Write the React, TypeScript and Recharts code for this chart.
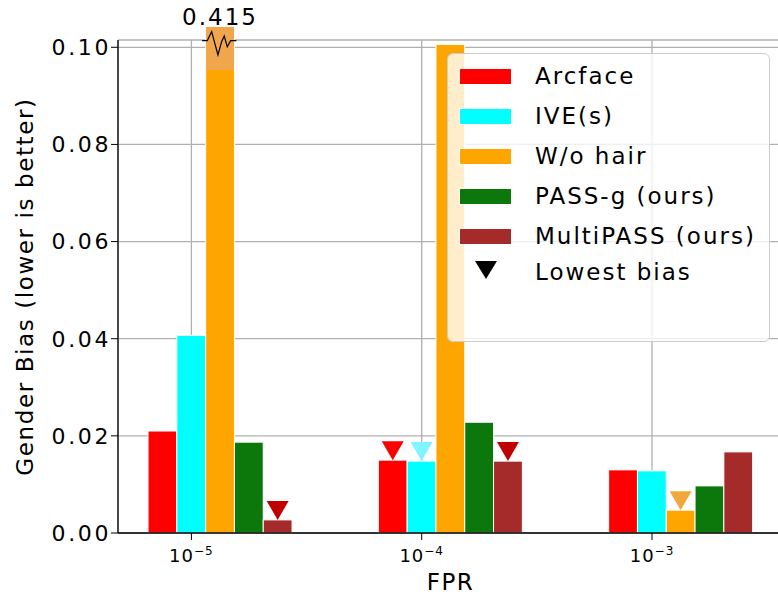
import React from "react";
import { BarChart, Bar, XAxis, YAxis, CartesianGrid, Legend } from "recharts";

// FPR operating points (powers of ten)
const fprExponents = [-5, -4, -3];

// gender bias per method at each FPR
const arcface = [0.021, 0.015, 0.013];
const ive = [0.0407, 0.0148, 0.0128];
const woHair = [0.415, 0.1006, 0.0047];
const passG = [0.0187, 0.0228, 0.0097];
const multiPass = [0.0027, 0.0148, 0.0167];

// methods reaching the lowest bias at each FPR
const lowestBias = [["multiPass"], ["arcface", "ive", "multiPass"], ["woHair"]];

const yTicks = [0, 0.02, 0.04, 0.06, 0.08, 0.1];

const FONT = "'DejaVu Sans', Verdana, sans-serif";
const Y_MAX = 0.1015;
const BAR_W = 0.125; // one bar, in decades
const X_MIN = -5.31875;
const X_MAX = -2.43125;

const SERIES = [
  { key: "arcface", name: "Arcface", color: "#ff0000", marker: "#ff0000", values: arcface },
  { key: "ive", name: "IVE(s)", color: "#00ffff", marker: "#80f5ff", values: ive },
  { key: "woHair", name: "W/o hair", color: "#ffa500", marker: "#f0a83c", values: woHair },
  { key: "passG", name: "PASS-g (ours)", color: "#0c780c", marker: "#0c780c", values: passG },
  { key: "multiPass", name: "MultiPASS (ours)", color: "#a52a2a", marker: "#c00000", values: multiPass },
];

// the tick sits under the second bar, so the group centre is one bar to the right
const data = fprExponents.map((e, i) => {
  const row: any = { pos: e + BAR_W, lowest: lowestBias[i] };
  SERIES.forEach((s) => (row[s.key] = s.values[i]));
  return row;
});

const makeShape = (key: string, marker: string) => (props: any) => {
  const { x, y, width, height, fill, payload, background } = props;
  const value = payload[key];
  const cx = x + width / 2;
  const base = y + height;
  const isLowest = payload.lowest.includes(key);

  if (value > Y_MAX) {
    // broken bar: runs past the top spine with a cut mark and its true value
    const top0 = background.y;
    const top = top0 - 13;
    const zig = [
      [-3.5, 0.7], [1.6, 0.7], [6, -8.3], [12.3, 15], [16, 1.7],
      [18.6, -4], [21.6, 6.7], [25, 0.7], [width + 2, 0.7],
    ]
      .map(([dx, dy]) => `${x + dx},${top0 + dy}`)
      .join(" ");
    return (
      <g>
        <rect x={x} y={top} width={width} height={base - top} fill={fill} stroke="#fff" strokeWidth={1} />
        <rect x={x + 0.5} y={top} width={width - 1} height={43} fill="#efa64c" />
        <polyline points={zig} fill="none" stroke="#000" strokeWidth={1.2} />
        <text x={cx} y={top - 2} textAnchor="middle" fontFamily={FONT} fontSize={23} letterSpacing={2} fill="#000">
          {value}
        </text>
      </g>
    );
  }
  return (
    <g>
      <rect x={x} y={y} width={width} height={height} fill={fill} stroke="#fff" strokeWidth={1} />
      {isLowest && (
        <polygon points={`${cx - 11},${y - 19} ${cx + 11},${y - 19} ${cx},${y}`} fill={marker} />
      )}
    </g>
  );
};

const FprTick = ({ x, y, payload }: any) => (
  <text x={x} y={y + 20} textAnchor="middle" fontFamily={FONT} fontSize={18} letterSpacing={1} fill="#000">
    10
    <tspan dy={-7} fontSize={12}>
      {"\u2212" + Math.abs(payload.value)}
    </tspan>
  </text>
);

const BiasTick = ({ x, y, payload }: any) => (
  <text x={x + 2} y={y} dy="0.36em" textAnchor="end" fontFamily={FONT} fontSize={22} letterSpacing={2.6} fill="#000">
    {payload.value.toFixed(2)}
  </text>
);

const XTitle = ({ viewBox }: any) => (
  <text x={viewBox.x + viewBox.width / 2} y={590} textAnchor="middle" fontFamily={FONT} fontSize={23} letterSpacing={1.5} fill="#000">
    FPR
  </text>
);

const YTitle = ({ viewBox }: any) => {
  const cy = viewBox.y + viewBox.height / 2;
  return (
    <text x={25} y={cy} transform={`rotate(-90 25 ${cy})`} dy="0.36em" textAnchor="middle" fontFamily={FONT} fontSize={23} letterSpacing={1.6} fill="#000">
      Gender Bias (lower is better)
    </text>
  );
};

const LegendBox = () => {
  const rowTop = (i: number) => 23 + i * 40;
  return (
    <div
      style={{
        boxSizing: "border-box",
        position: "relative",
        width: 323,
        height: 289,
        background: "rgba(255,255,255,0.8)",
        border: "1.5px solid #cccccc",
        borderRadius: 6,
        fontFamily: FONT,
        fontSize: 23,
        letterSpacing: 2,
        color: "#000",
      }}
    >
      {SERIES.map((s, i) => (
        <React.Fragment key={s.key}>
          <div
            style={{
              position: "absolute",
              left: 11,
              top: rowTop(i) - 9,
              width: 53,
              height: 17,
              background: s.color,
              border: "1px solid #fff",
              boxSizing: "border-box",
            }}
          />
          <div style={{ position: "absolute", left: 87, top: rowTop(i) - 15, lineHeight: "28px", whiteSpace: "nowrap" }}>
            {s.name}
          </div>
        </React.Fragment>
      ))}
      <svg style={{ position: "absolute", left: 26, top: rowTop(5) - 13 - 4 }} width={24} height={20}>
        <polygon points="1,1 23,1 12,19" fill="#000" />
      </svg>
      <div style={{ position: "absolute", left: 87, top: rowTop(5) - 4 - 15, lineHeight: "28px", whiteSpace: "nowrap" }}>
        Lowest bias
      </div>
    </div>
  );
};

export default function App() {
  return (
    <div style={{ position: "fixed", left: 0, top: 0, width: 778, height: 598, overflow: "hidden", background: "#fff" }}>
      {/* the broken bar is drawn past the top spine, so bars are not clipped */}
      <style>{`.recharts-bar-rectangles { clip-path: none !important; }`}</style>
      <BarChart width={800} height={598} data={data} margin={{ top: 40, right: 17, bottom: 0, left: 0 }} barGap={0}>
        <CartesianGrid stroke="#b0b0b0" strokeWidth={1.3} />
        <XAxis
          xAxisId="top"
          orientation="top"
          type="number"
          dataKey="pos"
          domain={[X_MIN, X_MAX]}
          height={0}
          tick={false}
          tickLine={false}
          axisLine={{ stroke: "#000", strokeWidth: 1.3 }}
        />
        <XAxis
          dataKey="pos"
          type="number"
          domain={[X_MIN, X_MAX]}
          ticks={fprExponents}
          interval={0}
          height={65}
          tickSize={7}
          tick={<FprTick />}
          tickLine={{ stroke: "#000" }}
          axisLine={{ stroke: "#000", strokeWidth: 1.3 }}
          label={<XTitle />}
        />
        <YAxis
          type="number"
          domain={[0, Y_MAX]}
          allowDataOverflow
          ticks={yTicks}
          interval={0}
          width={118}
          tickSize={7}
          tick={<BiasTick />}
          tickLine={{ stroke: "#000" }}
          axisLine={{ stroke: "#000", strokeWidth: 1.3 }}
          label={<YTitle />}
        />
        {SERIES.map((s) => (
          <Bar
            key={s.key}
            dataKey={s.key}
            name={s.name}
            fill={s.color}
            barSize={28.8}
            isAnimationActive={false}
            shape={makeShape(s.key, s.marker)}
          />
        ))}
        <Legend
          layout="vertical"
          align="center"
          verticalAlign="middle"
          wrapperStyle={{ left: 447, top: 53, width: 323, height: 289 }}
          content={() => <LegendBox />}
        />
      </BarChart>
    </div>
  );
}
